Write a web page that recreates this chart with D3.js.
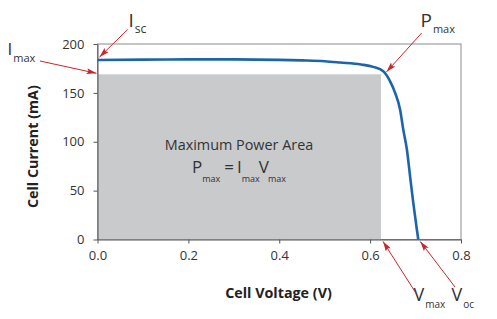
<!DOCTYPE html>
<meta charset="utf-8">
<script src="https://d3js.org/d3.v7.min.js"></script>
<style>
  body { margin: 0; background: #fff; }
  svg text { font-family: "Open Sans", sans-serif; fill: #333; }
  .axis text { font-size: 13px; fill: #333; }
  .axis path, .axis line { stroke: #555; }
  .title { font-size: 14.3px; font-weight: bold; fill: #222; }
</style>
<div id="chart"></div>
<script>
// I-V curve of the cell
var voltage = [0, 0.1, 0.2, 0.3, 0.4, 0.45, 0.5, 0.534, 0.58, 0.607, 0.629, 0.644, 0.655, 0.666, 0.673, 0.681, 0.688, 0.695, 0.703, 0.706];
var current = [183.6, 184, 184.3, 184.3, 183.8, 183.2, 182.3, 181, 179, 176.6, 172.1, 161.8, 150, 132.8, 112.3, 91.8, 64.4, 37.4, 9.7, 0];

var xTicks = [0, 0.2, 0.4, 0.6, 0.8];
var yTicks = [0, 50, 100, 150, 200];

// maximum power point
var vMax = 0.624, iMax = 169;
var isc = 183.6, voc = 0.706;
var pKnee = [0.634, 171.5];

var margin = {top: 44, right: 36, bottom: 79.5, left: 97.5},
    W = 497, H = 319,
    width = W - margin.left - margin.right,
    height = H - margin.top - margin.bottom;

var svg = d3.select("#chart")
    .append("svg")
    .attr("width", W)
    .attr("height", H);

var x = d3.scaleLinear().domain([0, 0.8]).range([margin.left, margin.left + width]);
var y = d3.scaleLinear().domain([0, 200]).range([margin.top + height, margin.top]);

// arrowhead
svg.append("defs").append("marker")
    .attr("id", "arrow")
    .attr("markerUnits", "userSpaceOnUse")
    .attr("viewBox", "0 0 10 6")
    .attr("refX", 10).attr("refY", 3)
    .attr("markerWidth", 10).attr("markerHeight", 6)
    .attr("orient", "auto")
    .append("path")
    .attr("d", "M0,0 L10,3 L0,6 L2,3 Z")
    .attr("fill", "#c8262d");

// frame
svg.append("rect")
    .attr("x", x(0)).attr("y", y(200))
    .attr("width", x(0.8) - x(0)).attr("height", y(0) - y(200))
    .attr("fill", "none")
    .attr("stroke", "#8c8c8c");

// maximum power rectangle
svg.append("rect")
    .attr("x", x(0)).attr("y", y(iMax))
    .attr("width", x(vMax) - x(0)).attr("height", y(0) - y(iMax))
    .attr("fill", "#c9cacc");

// axes
svg.append("g")
    .attr("class", "axis")
    .attr("transform", "translate(0," + y(0) + ")")
    .call(d3.axisBottom(x).tickValues(xTicks).tickSize(4).tickPadding(7).tickSizeOuter(0)
        .tickFormat(d3.format(".1f")));

svg.append("g")
    .attr("class", "axis")
    .attr("transform", "translate(" + x(0) + ",0)")
    .call(d3.axisLeft(y).tickValues(yTicks).tickSize(4).tickPadding(9).tickSizeOuter(0));

svg.selectAll(".axis .domain").attr("stroke", "#666");

// curve
var pts = voltage.map(function (v, i) { return [v, current[i]]; });
var line = d3.line()
    .x(function (d) { return x(d[0]); })
    .y(function (d) { return y(d[1]); })
    .curve(d3.curveMonotoneX);

svg.append("path")
    .datum(pts)
    .attr("d", line)
    .attr("fill", "none")
    .attr("stroke", "#1d65a8")
    .attr("stroke-width", 2.6);

// axis titles
svg.append("text")
    .attr("class", "title")
    .attr("x", 278.5).attr("y", 297.5)
    .attr("text-anchor", "middle")
    .text("Cell Voltage (V)");

svg.append("text")
    .attr("class", "title")
    .attr("transform", "translate(37.5,146.7) rotate(-90)")
    .attr("text-anchor", "middle")
    .text("Cell Current (mA)");

// centre text
svg.append("text")
    .attr("x", 239).attr("y", 149.5)
    .attr("text-anchor", "middle")
    .style("font-size", "14.4px")
    .text("Maximum Power Area");

var eq = svg.append("text")
    .attr("x", 239).attr("y", 172.5)
    .attr("text-anchor", "middle")
    .style("font-size", "17px");
eq.append("tspan").text("P");
eq.append("tspan").attr("dy", 9).style("font-size", "9px").text("max");
eq.append("tspan").attr("dy", -9).attr("dx", 4).text("=");
eq.append("tspan").attr("dx", 3).text("I");
eq.append("tspan").attr("dy", 9).style("font-size", "9px").text("max");
eq.append("tspan").attr("dy", -9).attr("dx", -1).text("V");
eq.append("tspan").attr("dy", 9).attr("dx", -1).style("font-size", "9px").text("max");

// labels with subscripts
function label(px, py, main, sub, size, subSize, shift) {
    var t = svg.append("text")
        .attr("x", px).attr("y", py)
        .style("font-size", size + "px");
    t.append("tspan").text(main);
    t.append("tspan").attr("dx", 1).attr("dy", shift).style("font-size", subSize + "px").text(sub);
}

function arrow(x1, y1, x2, y2) {
    svg.append("line")
        .attr("x1", x1).attr("y1", y1)
        .attr("x2", x2).attr("y2", y2)
        .attr("stroke", "#c8262d")
        .attr("stroke-width", 1)
        .attr("marker-end", "url(#arrow)");
}

label(128.5, 27, "I", "sc", 19, 12, 6);
arrow(127.7, 29.5, x(0) + 2, y(isc) - 3);

label(7.5, 55, "I", "max", 17, 11, 7);
arrow(40, 61, x(0) - 1, y(iMax) - 1);

label(420.5, 26.7, "P", "max", 19, 11, 6);
arrow(421.7, 33, x(pKnee[0]) + 1, y(pKnee[1]));

label(413.5, 301, "V", "max", 18, 10, 7);
arrow(416.5, 294, x(vMax) + 2, y(0) + 2);

label(451.5, 301, "V", "oc", 18, 10, 7);
arrow(455, 287, x(voc) + 2, y(0) + 2);
</script>
